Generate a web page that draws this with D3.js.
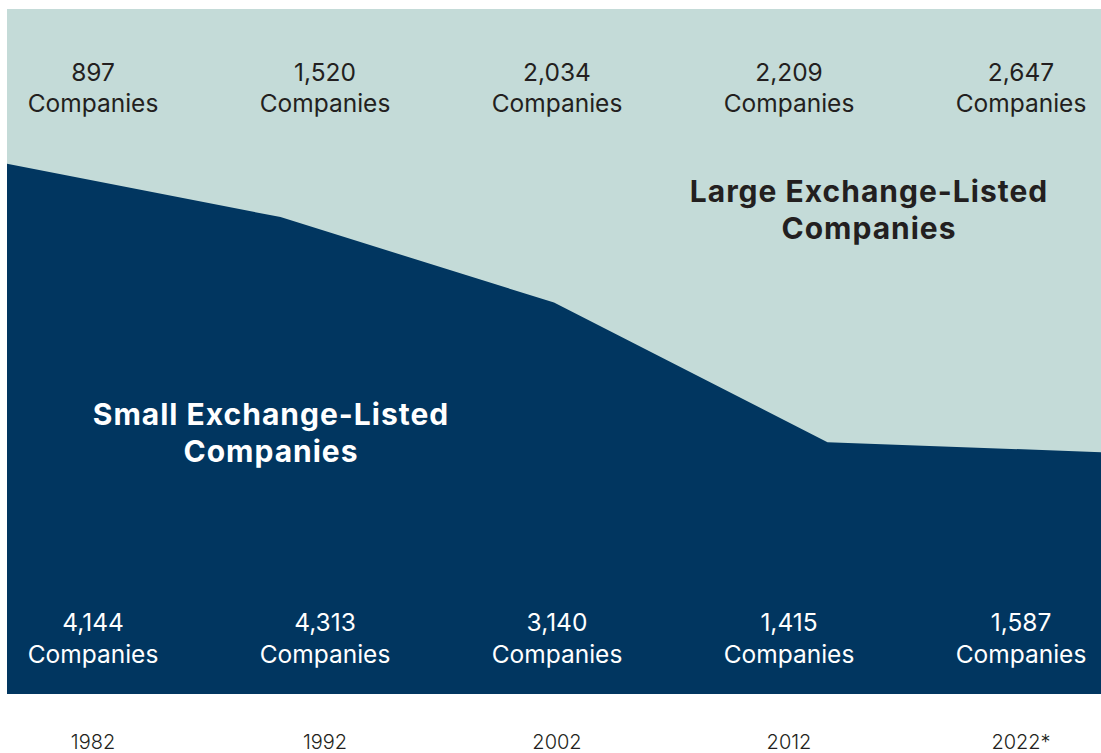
<!DOCTYPE html>
<html>
<head>
<meta charset="utf-8">
<script src="https://cdn.jsdelivr.net/npm/d3@7"></script>
<style>
  html, body { margin: 0; padding: 0; background: #ffffff; }
  svg { display: block; }
  text { font-family: "Inter", "Noto Sans", sans-serif; }
</style>
</head>
<body>
<svg id="chart" width="1101" height="753"></svg>
<script>
// Exchange-listed companies by year
const years = [1982, 1992, 2002, 2012, 2022];
const yearLabels = ["1982", "1992", "2002", "2012", "2022*"];
const largeCompanies = [897, 1520, 2034, 2209, 2647];
const smallCompanies = [4144, 4313, 3140, 1415, 1587];
const seriesNames = ["Small Exchange-Listed Companies", "Large Exchange-Listed Companies"];

const W = 1101, H = 753;
const panel = { left: 7, right: 1101, top: 9, bottom: 694 };

const colors = { small: "#013660", large: "#c4dbd8", dark: "#231f20", light: "#ffffff" };

const rows = years.map((yr, i) => ({ year: yr, small: smallCompanies[i], large: largeCompanies[i] }));

// Share of each group per year (stacked to 100%)
const stack = d3.stack().keys(["small", "large"]).offset(d3.stackOffsetExpand);
const layers = stack(rows);

const x = d3.scaleLinear().domain(d3.extent(years)).range([panel.left, panel.right]);
const y = d3.scaleLinear().domain([0, 1]).range([panel.bottom, 49]);
// label columns
const xl = d3.scalePoint().domain(years).range([93, 1021]);

const svg = d3.select("#chart");

// light panel behind the stack (the large-company area)
svg.append("rect")
  .attr("x", panel.left).attr("y", panel.top)
  .attr("width", panel.right - panel.left).attr("height", panel.bottom - panel.top)
  .attr("fill", colors.large);

const area = d3.area()
  .x(d => x(d.data.year))
  .y0(d => y(d[0]))
  .y1(d => y(d[1]));

svg.append("path")
  .datum(layers[1])
  .attr("d", area)
  .attr("fill", colors.large);

svg.append("path")
  .datum(layers[0])
  .attr("d", area)
  .attr("fill", colors.small);

const fmt = d3.format(",");

// Large company counts (top row)
const topLabels = svg.append("g").selectAll("text")
  .data(rows).join("text")
  .attr("text-anchor", "middle")
  .attr("fill", colors.dark)
  .style("font-size", "24.5px");
topLabels.append("tspan").attr("x", d => xl(d.year)).attr("y", 81).text(d => fmt(d.large));
topLabels.append("tspan").attr("x", d => xl(d.year)).attr("y", 112).text("Companies");

// Small company counts (bottom row)
const botLabels = svg.append("g").selectAll("text")
  .data(rows).join("text")
  .attr("text-anchor", "middle")
  .attr("fill", colors.light)
  .style("font-size", "24.5px");
botLabels.append("tspan").attr("x", d => xl(d.year)).attr("y", 631).text(d => fmt(d.small));
botLabels.append("tspan").attr("x", d => xl(d.year)).attr("y", 663).text("Companies");

// Year axis labels
svg.append("g").selectAll("text")
  .data(years).join("text")
  .attr("x", d => xl(d))
  .attr("y", 749)
  .attr("text-anchor", "middle")
  .attr("fill", colors.dark)
  .style("font-size", "20px")
  .style("font-weight", 300)
  .text((d, i) => yearLabels[i]);

// Series annotations
function annotate(lines, cx, y0, fill) {
  const t = svg.append("text")
    .attr("text-anchor", "middle")
    .attr("fill", fill)
    .style("font-size", "30px")
    .style("font-weight", 700)
    .style("letter-spacing", "1px");
  lines.forEach((ln, i) => {
    t.append("tspan").attr("x", cx).attr("y", y0 + i * 37).text(ln);
  });
}
annotate(["Large Exchange-Listed", "Companies"], 869, 202, colors.dark);
annotate(["Small Exchange-Listed", "Companies"], 271, 425, colors.light);
</script>
</body>
</html>
